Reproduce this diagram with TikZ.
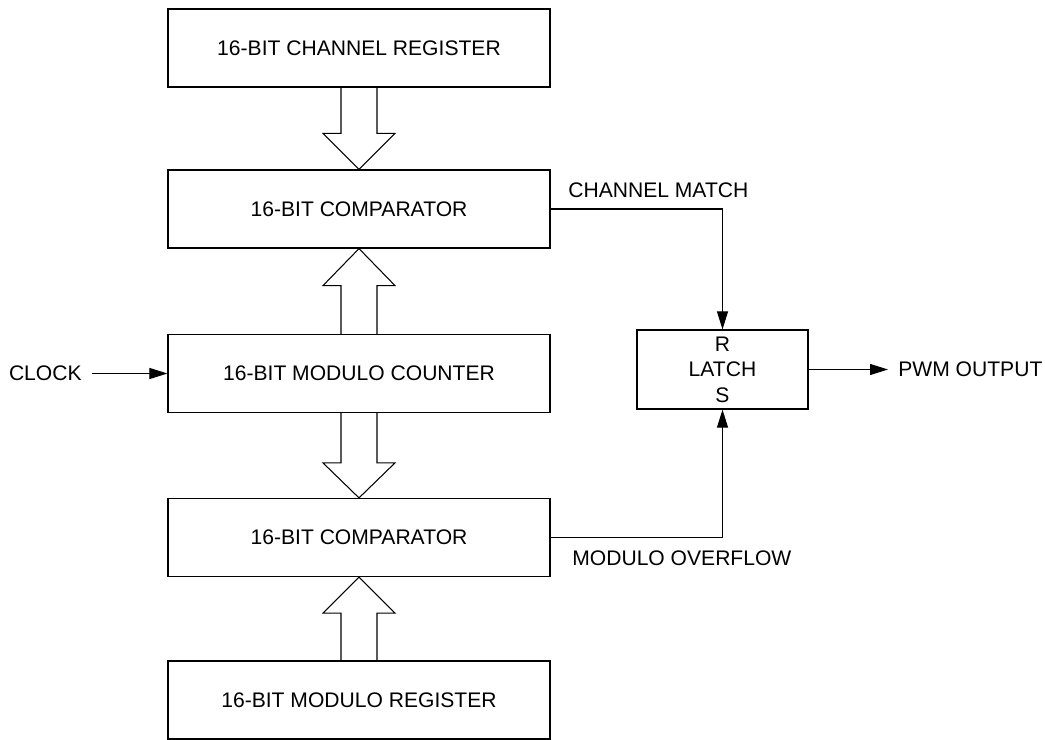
\documentclass[tikz,border=0pt]{standalone}
\usepackage{fontspec}
\setmainfont{Liberation Sans}
\usetikzlibrary{arrows.meta, calc}

% hollow bus arrow: from (#1) to the tip (#2), head base at offset #3
\newcommand{\busarrow}[3]{%
    \draw[bus] ($(#1)+(-18,0)$) -- ($(#2)+(-18,#3)$) -- ($(#2)+(-36,#3)$)
        -- (#2) -- ($(#2)+(36,#3)$) -- ($(#2)+(18,#3)$) -- ($(#1)+(18,0)$);%
}

\begin{document}
\begin{tikzpicture}[x=0.02cm, y=-0.02cm,
        block/.style={draw, line width=0.7pt, minimum width=7.64cm,
            minimum height=1.56cm, font=\fontsize{12}{14.5}\selectfont},
        lbl/.style={inner sep=0.2cm, font=\fontsize{12}{14.5}\selectfont},
        sig/.style={line width=0.6pt, -{Triangle[length=0.36cm, width=0.22cm]}},
        bus/.style={line width=0.6pt}]
        \useasboundingbox (0, 0) rectangle (1045, 740);
        % the five register blocks
        \node[block] (chreg) at (359, 48) {16-BIT CHANNEL REGISTER};
        \node[block] (cmpa) at (359, 209) {16-BIT COMPARATOR};
        \node[block] (counter) at (359, 373.5) {16-BIT MODULO COUNTER};
        \node[block] (cmpb) at (359, 537.5) {16-BIT COMPARATOR};
        \node[block] (modreg) at (359, 700) {16-BIT MODULO REGISTER};
        % latch, with set and reset inputs
        \node[block, minimum width=3.42cm, minimum height=1.58cm, align=center]
            (latch) at (722.5, 369.5) {R\\LATCH\\S};
        % buses into the comparators
        \busarrow{chreg.south}{cmpa.north}{-36}
        \busarrow{counter.north}{cmpa.south}{37}
        \busarrow{counter.south}{cmpb.north}{-35}
        \busarrow{modreg.north}{cmpb.south}{36}
        % clock input
        \node[lbl, anchor=east] (clock) at (92, 373.5) {CLOCK};
        \draw[sig] (clock) -- (counter);
        % match signals to the latch, with labels
        \draw[sig] (cmpa.east) -| (latch.north);
        \node[lbl, anchor=west] (chmatch) at (558, 190) {CHANNEL MATCH};
        \draw[sig] (cmpb.east) -| (latch.south);
        \node[lbl, anchor=west] (modovf) at (562, 558) {MODULO OVERFLOW};
        % output
        \node[lbl, anchor=west] (pwm) at (888, 369.5) {PWM OUTPUT};
        \draw[sig] (latch) -- (pwm);
\end{tikzpicture}
\end{document}
